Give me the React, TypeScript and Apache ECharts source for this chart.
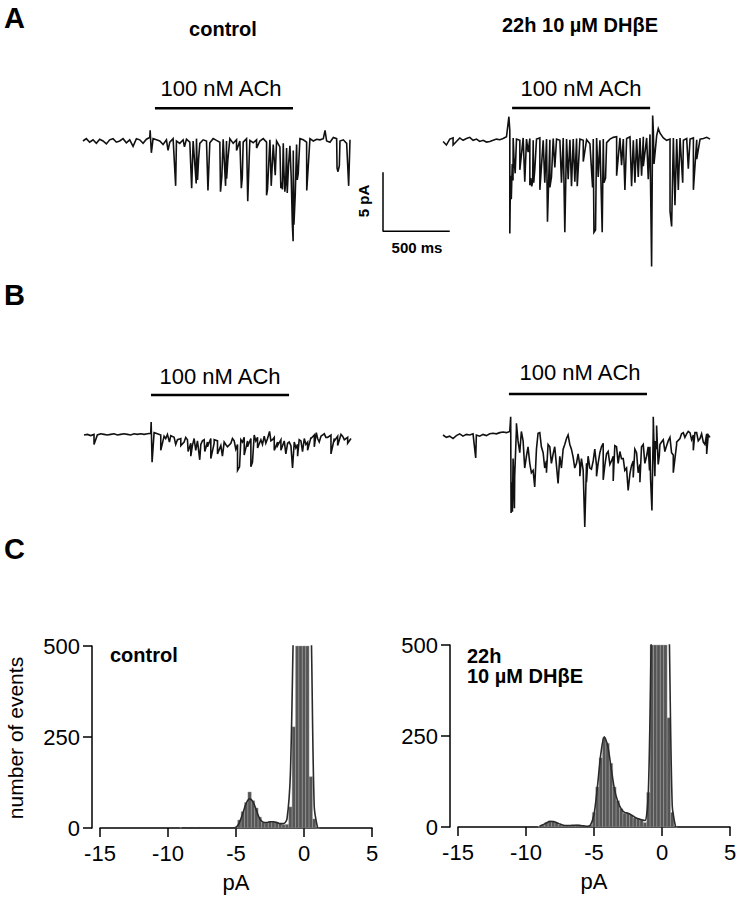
import React, { useEffect, useRef } from "react";
import * as echarts from "echarts";

// ---------- trace data (time in ms, current in pA) ----------
const traceStepMs = 25;

// Panel A, control: baseline samples every 25 ms
const aCtrlBase = [
  0, 0.2, -0.1, 0.1, -0.2, 0.15, 0, -0.25, 0.1, 0.2, -0.1, 0, 0.2, -0.15, 0.1, -0.45, 0.2, 0.1, -0.2, 0.15, 0.3,
  0.2, 0.1, 0, -0.3, 0.1, -0.1, 0.2, 0, -0.2, 0.1, 0.15, -0.1, 0, 0.2, -0.2, 0.1, 0, -0.15, 0.2, 0.05,
  -0.1, 0.15, 0, 0.2, -0.2, 0.1, 0, -0.1, 0.2, 0.05, -0.15, 0.1, 0, 0.2, -0.1, 0.1, -0.3, 0, -0.5, -0.2,
  -0.6, -0.4, -0.8, -0.3, 0.2, 0.1, -0.1, 0.2, 0, 0.15, 0.1, 0.2, 0, -0.1, 0.3, 0.2, 0, 0.1, -0.2, 0.1,
];
// Panel A, control: single-channel events [time, current]
const aCtrlEvents = [
  [503, 0.9], [512, -1.0], [637, -0.8], [694, -3.8], [760, -0.5], [814, -4.0], [848, -3.6], [858, -3.3],
  [866, -1.5], [936, -4.2], [1030, -4.3], [1040, -3.0], [1068, -3.8], [1076, -3.2], [1085, -1.6], [1150, -0.8],
  [1186, -4.0], [1193, -3.1], [1234, -5.1], [1245, -1.4], [1300, -0.6], [1375, -4.6], [1382, -4.1], [1410, -3.8],
  [1440, -2.9], [1482, -4.0], [1488, -3.5], [1494, -4.1], [1505, -2.5], [1512, -4.3], [1518, -3.6], [1530, -4.4],
  [1540, -2.0], [1560, -3.2], [1568, -7.0], [1574, -8.5], [1580, -7.1], [1590, -4.5], [1605, -3.3], [1612, -2.8],
  [1676, -4.2], [1813, 0.9], [1903, -2.3], [1910, -2.6], [1920, -2.1], [1990, -3.8],
];

// Panel A, 22h DHbE
const aDhbeBase = [
  -0.1, -0.4, 0.1, 0.2, -0.1, 0.2, 0, 0.15, 0.25, 0, 0.1, -0.1, 0, -0.15, -0.1, 0, 0.1, 0.05, 0.15, 0.3, 0.8,
  0.2, 0.1, 0, 0.2, 0.1, 0.15, 0, 0.1, 0.2, 0, 0.1, 0.05, 0.15, 0.1, 0, 0.2, 0.1, 0.05, 0.1, 0.15,
  0.1, 0, 0.05, -0.3, 0.1, 0.2, 0, 0.1, -0.2, 0.1, 0.25, 0.3, 0.2, 0.1, 0.15, 0.3, 0, 0.1, 0.2, 0.3,
  0.2, 0.5, 0.8, 0.4, 0.6, 0.2, 0, 0.1, 0.2, 0.1, 0.2, 0, 0.15, 0.1, 0.2, 0.05, 0.1, 0.15, 0.25, 0.1,
];
const aDhbeEvents = [
  [75, -0.4], [493, 2.0], [500, -7.9], [505, -3.0], [511, -5.0], [518, -2.0], [524, -3.4], [531, -1.5],
  [540, -2.8], [575, -2.5], [612, -3.5], [637, -1.0], [650, -3.8], [657, -3.2], [664, -3.9], [671, -3.5],
  [679, -3.6], [687, -2.5], [725, -4.2], [762, -3.6], [782, -6.9], [800, -4.0], [812, -3.1], [837, -2.3],
  [887, -3.6], [912, -7.8], [937, -3.3], [962, -3.9], [987, -3.5], [1005, -3.9], [1050, -1.8], [1120, -4.0],
  [1130, -7.8], [1142, -7.6], [1162, -3.1], [1192, -7.8], [1205, -3.6], [1217, -3.2], [1300, -3.0], [1337, -2.1],
  [1362, -4.2], [1412, -3.9], [1437, -3.6], [1462, -3.1], [1487, -3.0], [1500, -2.2], [1537, -3.3], [1555, -4.5],
  [1562, -10.7], [1570, 2.1], [1580, -2.0], [1612, 1.0], [1700, -6.0], [1712, -7.3], [1737, -5.5], [1762, -4.2],
  [1795, -3.6], [1837, -2.4], [1875, -4.2], [1900, -1.6],
];

// Panel B, control
const bCtrlBase = [
  0, 0.05, -0.05, 0.05, 0, 0.1, 0.05, 0, 0.05, 0.1, 0, 0.05, 0.1, 0.05, 0, 0.1, 0.05, 0.1, 0.05, 0.1, 0.15,
  0.2, 0.1, 0, -0.1, 0.05, -0.05, -0.2, -0.4, -0.3, -0.6, -0.4, -0.7, -0.3, -0.5, -0.8, -0.4, -0.6, -0.3, -0.7, -0.5,
  -0.9, -0.6, -1.0, -0.7, -0.5, -0.8, -0.4, -0.2, -0.5, -0.3, 0, -0.2, -0.4, -0.1, -0.3, -0.5, -0.2, -0.6, -0.4, -0.5,
  -0.7, -0.9, -0.6, -0.8, -0.5, -0.3, -0.6, -0.2, 0, -0.3, -0.1, 0.1, -0.2, 0, -0.3, -0.1, 0.05, -0.4, -0.2, -0.3,
];
const bCtrlEvents = [
  [75, -0.8], [503, 1.1], [510, -2.3], [575, -1.3], [612, -0.3], [640, -0.6], [687, -0.8], [725, -0.9],
  [762, -0.2], [780, -1.4], [800, -1.8], [812, -0.9], [837, -1.3], [867, -2.1], [887, -0.5], [905, -1.4],
  [925, -1.0], [950, -2.0], [975, -0.4], [1000, -1.6], [1037, -1.8], [1062, -0.8], [1112, -0.3], [1137, -1.2],
  [1150, -3.0], [1165, -2.7], [1187, -0.6], [1200, -1.7], [1225, -1.0], [1250, -2.7], [1262, -2.3], [1287, -0.5],
  [1300, -1.1], [1337, -0.8], [1362, -0.7], [1390, 0.3], [1412, -0.4], [1425, -1.3], [1450, -0.9], [1475, -1.3],
  [1512, -1.6], [1537, -0.6], [1562, -2.8], [1587, -1.1], [1600, -1.8], [1612, -0.4], [1637, -1.4], [1662, -0.8],
  [1675, -1.3], [1700, -0.3], [1725, -1.0], [1740, 0.2], [1762, -0.6], [1812, -0.2], [1850, -1.6], [1875, -0.5],
  [1900, -0.9], [1937, -0.1], [1975, -0.7],
];

// Panel B, 22h DHbE
const bDhbeBase = [
  0, -0.2, -0.1, -0.3, -0.05, 0.1, -0.1, 0.05, 0, 0.1, 0, -0.1, 0.05, -0.05, 0.1, 0.15, 0.1, 0.2, 0.25, 0.2, 0.3,
  -2.0, 0.5, -1.5, -0.5, -1.8, -2.4, -3.0, -1.2, 0.2, -1.5, -2.2, -1.0, -1.6, -2.6, -1.8, -1.2, -0.3, -0.8, -1.9, -2.4,
  -2.6, -3.0, -2.4, -2.8, -2.2, -2.6, -1.5, -0.7, -1.6, -2.5, -1.8, -1.0, -1.4, -2.0, -2.8, -3.3, -2.2, -1.5, -2.5, -0.8,
  -1.8, -1.0, 0.6, -1.2, -0.8, -0.4, -0.9, -0.2, -1.7, -0.8, -0.3, 0.2, 0.1, 0.2, 0.0, 0.2, -0.3, -0.6, 0.1, -0.2,
];
const bDhbeEvents = [
  [245, -1.95], [507, 1.55], [510, -6.6], [515, -4.0], [520, -6.5], [528, -3.0], [535, -6.2], [537, -3.5],
  [550, 1.0], [562, -0.5], [587, 0.3], [612, -2.8], [637, -1.0], [662, -3.2], [687, -4.4], [712, 0.15],
  [737, -1.0], [762, -2.8], [775, -3.2], [787, -0.8], [812, -2.4], [837, -1.0], [862, -4.1], [887, -2.8],
  [912, -0.8], [937, 0.0], [962, -1.2], [987, -2.8], [1012, -1.6], [1025, -3.5], [1037, -2.0], [1062, -7.8],
  [1075, -4.0], [1087, -1.8], [1112, -2.9], [1137, -1.2], [1150, -3.5], [1162, -2.4], [1187, -1.0], [1200, -3.8],
  [1212, -2.6], [1237, -1.4], [1262, -2.2], [1275, -3.9], [1287, -0.9], [1312, -2.4], [1337, -2.0], [1362, -3.0],
  [1387, -4.7], [1412, -2.6], [1425, -3.6], [1437, -1.2], [1462, -3.2], [1475, -4.0], [1487, -1.0], [1512, -2.4],
  [1537, -1.0], [1547, -3.0], [1555, -3.8], [1565, -6.4], [1575, 1.55], [1587, -3.5], [1592, -0.5], [1600, 0.8],
  [1612, -2.5], [1620, -1.8], [1637, -0.6], [1662, -1.4], [1687, -0.5], [1712, -1.5], [1725, -3.2], [1750, -0.6],
  [1787, 0.1], [1812, -0.2], [1837, 0.3], [1862, -0.4], [1875, -1.3], [1887, 0.2], [1912, -0.5], [1937, 0.1],
  [1962, -0.8], [1975, -1.6], [1987, 0.0],
];

// ACh application windows (ms)
const achCtrlA = [539, 1573];
const achDhbeA = [517, 1551];
const achCtrlB = [502, 1536];
const achDhbeB = [494, 1528];

// scale bar
const scaleBarMs = 500;
const scaleBarPa = 5;

// ---------- amplitude histograms ----------
const histBinWidth = 0.25;
const histBins = [
  -9, -8.75, -8.5, -8.25, -8, -7.75, -7.5, -7.25, -7, -6.75, -6.5, -6.25, -6, -5.75, -5.5, -5.25,
  -5, -4.75, -4.5, -4.25, -4, -3.75, -3.5, -3.25, -3, -2.75, -2.5, -2.25, -2, -1.75, -1.5, -1.25,
  -1, -0.75, -0.5, -0.25, 0, 0.25, 0.5, 0.75, 1,
];
const ctrlCounts = [
  1, 0, 1, 2, 1, 2, 1, 0, 1, 0, 1, 0, 1, 0, 1, 0,
  3, 22, 45, 70, 99, 75, 55, 30, 15, 14, 18, 17, 16, 12, 9, 10,
  58, 278, 700, 900, 900, 700, 141, 25, 0,
];
const ctrlFit = [
  0, 0, 0, 0, 0, 0, 0, 0, 0, 0, 0, 0, 0, 0, 0, 0,
  2, 15, 40, 68, 80, 72, 48, 25, 16, 15, 17, 17, 15, 12, 12, 25,
  150, 600, 900, 900, 900, 800, 600, 60, 0,
];
const dhbeCounts = [
  2, 5, 12, 17, 16, 12, 6, 4, 3, 3, 4, 6, 5, 2, 2, 5,
  40, 110, 190, 245, 230, 175, 110, 72, 50, 38, 37, 33, 25, 23, 20, 12,
  95, 600, 900, 900, 900, 800, 300, 40, 0,
];
const dhbeFit = [
  2, 6, 11, 15, 15, 12, 8, 5, 4, 4, 5, 5, 4, 3, 2, 6,
  35, 110, 200, 248, 225, 165, 105, 70, 50, 40, 38, 33, 27, 23, 20, 18,
  100, 600, 900, 900, 900, 900, 600, 60, 0,
];
const histYTicks = [0, 250, 500];

const FONT = 'Arial, "Liberation Sans", Helvetica, sans-serif';

function buildTrace(base: number[], events: number[][]) {
  const pts: number[][] = base.map((v, i) => [i * traceStepMs, v]);
  events.forEach((e) => pts.push([e[0], e[1]]));
  pts.sort((p, q) => p[0] - q[0]);
  return pts;
}

function txt(text: string, x: number, y: number, size: number, opts: any = {}) {
  return {
    type: "text",
    x,
    y,
    rotation: opts.rotation || 0,
    style: {
      text,
      fontSize: size,
      fontWeight: opts.bold ? "bold" : "normal",
      fontFamily: FONT,
      fill: "#000",
      align: opts.align || "center",
      verticalAlign: "middle",
    },
  };
}

export default function App() {
  const ref = useRef<HTMLDivElement>(null);

  useEffect(() => {
    document.body.style.margin = "0";
    const chart = echarts.init(ref.current!, undefined, { renderer: "svg" });

    const yMin = -11.5;
    const yMax = 4;
    const pxPerPa = 11.8;
    const pxPerMs = 0.1335;
    const tH = (yMax - yMin) * pxPerPa;
    const tTop = (baseline: number) => baseline - yMax * pxPerPa;

    const grids: any[] = [
      { left: 83, top: tTop(141), width: 2000 * pxPerMs, height: tH },
      { left: 383, top: tTop(140.3), width: 2450 * pxPerMs, height: tH },
      { left: 84, top: tTop(435), width: 2000 * pxPerMs, height: tH },
      { left: 443, top: tTop(435), width: 2000 * pxPerMs, height: tH },
      { left: 100, top: 646, width: 272, height: 182 },
      { left: 458, top: 645, width: 272, height: 182 },
    ].map((g) => ({ ...g, outerBoundsMode: "none", containLabel: false }));

    const traceX = (i: number, min: number) => ({
      type: "value", gridIndex: i, min, max: 2000, show: false,
    });
    const traceY = (i: number) => ({
      type: "value", gridIndex: i, min: yMin, max: yMax, show: false,
    });

    const histX = (i: number) => ({
      type: "value",
      gridIndex: i,
      min: -15,
      max: 5,
      interval: 5,
      axisLine: { show: true, onZero: false, lineStyle: { color: "#000", width: 1.5 } },
      axisTick: { show: true, length: 9, lineStyle: { color: "#000", width: 1.5 } },
      axisLabel: { fontSize: 22, color: "#000", fontFamily: FONT, margin: 14 },
      splitLine: { show: false },
      name: "pA",
      nameLocation: "middle",
      nameGap: 43,
      nameTextStyle: { fontSize: 22, color: "#000", fontFamily: FONT },
    });
    const histY = (i: number) => ({
      type: "value",
      gridIndex: i,
      min: histYTicks[0],
      max: histYTicks[2],
      interval: histYTicks[1] - histYTicks[0],
      offset: 8,
      axisLine: { show: true, onZero: false, lineStyle: { color: "#000", width: 1.5 } },
      axisTick: { show: true, length: 9, lineStyle: { color: "#000", width: 1.5 } },
      axisLabel: { fontSize: 22, color: "#000", fontFamily: FONT, margin: 12 },
      splitLine: { show: false },
    });

    const traceSeries = (i: number, data: number[][]) => ({
      type: "line",
      xAxisIndex: i,
      yAxisIndex: i,
      data,
      showSymbol: false,
      symbol: "none",
      lineStyle: { color: "#111", width: 1.6, join: "miter" },
      z: 3,
    });
    const barSeries = (i: number, win: number[], level: number) => ({
      type: "line",
      xAxisIndex: i,
      yAxisIndex: i,
      data: [[win[0], level], [win[1], level]],
      showSymbol: false,
      symbol: "none",
      lineStyle: { color: "#000", width: 2.5 },
      z: 3,
    });

    const histRender = (params: any, api: any) => {
      const x = api.value(0);
      const y = Math.min(api.value(1), histYTicks[2]);
      const a = api.coord([x - histBinWidth / 2, y]);
      const b = api.coord([x + histBinWidth / 2, 0]);
      return {
        type: "rect",
        shape: { x: a[0], y: a[1], width: b[0] - a[0], height: b[1] - a[1] },
        style: { fill: "#555", stroke: "#a8a8a8", lineWidth: 0.4 },
      };
    };
    const histSeries = (i: number, counts: number[]) => ({
      type: "custom",
      xAxisIndex: i,
      yAxisIndex: i,
      renderItem: histRender,
      data: histBins.map((b, k) => [b, counts[k]]),
      encode: { x: 0, y: 1 },
      z: 2,
    });
    const fitSeries = (i: number, fit: number[]) => ({
      type: "line",
      xAxisIndex: i,
      yAxisIndex: i,
      data: histBins.map((b, k) => [b, fit[k]]),
      showSymbol: false,
      symbol: "none",
      smooth: 0.3,
      clip: true,
      lineStyle: { color: "#2a2a2a", width: 1.6 },
      z: 4,
    });

    const scaleOrigin = [-450, -7.7];

    chart.setOption({
      animation: false,
      backgroundColor: "#fff",
      grid: grids,
      xAxis: [traceX(0, 0), traceX(1, -450), traceX(2, 0), traceX(3, 0), histX(4), histX(5)],
      yAxis: [traceY(0), traceY(1), traceY(2), traceY(3), histY(4), histY(5)],
      series: [
        traceSeries(0, buildTrace(aCtrlBase, aCtrlEvents)),
        traceSeries(1, buildTrace(aDhbeBase, aDhbeEvents)),
        traceSeries(2, buildTrace(bCtrlBase, bCtrlEvents)),
        traceSeries(3, buildTrace(bDhbeBase, bDhbeEvents)),
        barSeries(0, achCtrlA, 2.77),
        barSeries(1, achDhbeA, 2.74),
        barSeries(2, achCtrlB, 3.39),
        barSeries(3, achDhbeB, 3.47),
        {
          type: "line",
          xAxisIndex: 1,
          yAxisIndex: 1,
          data: [
            [scaleOrigin[0], scaleOrigin[1] + scaleBarPa],
            [scaleOrigin[0], scaleOrigin[1]],
            [scaleOrigin[0] + scaleBarMs, scaleOrigin[1]],
          ],
          showSymbol: false,
          symbol: "none",
          lineStyle: { color: "#000", width: 1.5 },
        },
        histSeries(4, ctrlCounts),
        fitSeries(4, ctrlFit),
        histSeries(5, dhbeCounts),
        fitSeries(5, dhbeFit),
      ],
      graphic: [
        txt("A", 4, 18, 29, { bold: true, align: "left" }),
        txt("B", 4, 295, 29, { bold: true, align: "left" }),
        txt("C", 4, 549, 29, { bold: true, align: "left" }),
        txt("control", 223, 29, 20, { bold: true }),
        txt("22h 10 µM DHβE", 580, 25, 20, { bold: true }),
        txt("100 nM ACh", 221, 88, 22),
        txt("100 nM ACh", 581, 88, 22),
        txt("100 nM ACh", 220, 376, 22),
        txt("100 nM ACh", 580, 372, 22),
        txt("5 pA", 363, 201, 15, { bold: true, rotation: Math.PI / 2 }),
        txt("500 ms", 417, 247, 15, { bold: true }),
        txt("control", 110, 655, 20, { bold: true, align: "left" }),
        txt("22h", 467, 656, 20, { bold: true, align: "left" }),
        txt("10 µM DHβE", 467, 676, 20, { bold: true, align: "left" }),
        txt("number of events", 15, 738, 21, { rotation: Math.PI / 2 }),
      ],
    });

    return () => chart.dispose();
  }, []);

  return (
    <div
      ref={ref}
      style={{ width: 740, height: 899, position: "absolute", left: 0, top: 0, background: "#fff" }}
    />
  );
}
